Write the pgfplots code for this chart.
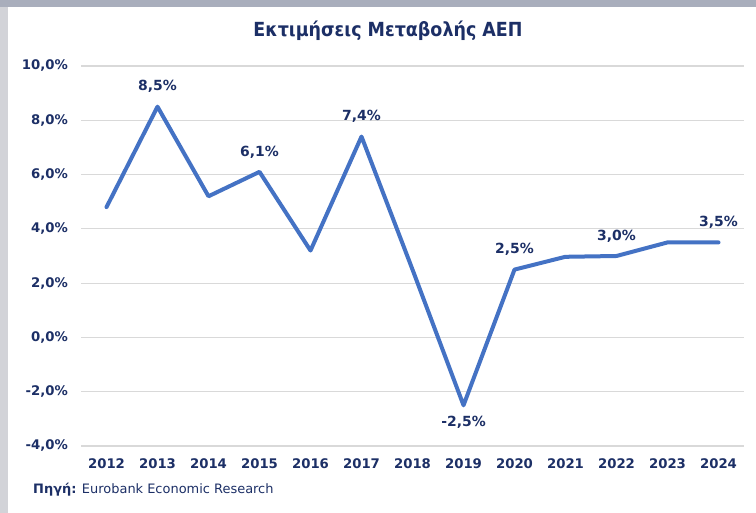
\documentclass[border=0pt]{standalone}
\usepackage{pgfplots}
\pgfplotsset{compat=1.18}
\usepackage{fontspec}
\setmainfont{DejaVu Sans}
\newfontfamily\condfont{DejaVu Sans Condensed}
\definecolor{navy}{HTML}{1C2F66}
\definecolor{lineblue}{HTML}{4472C4}
\definecolor{gridgray}{HTML}{D9D9D9}
\definecolor{leftband}{HTML}{D2D3D8}
\definecolor{topband}{HTML}{A9AEBC}

\begin{document}
\begin{tikzpicture}[x=1bp,y=1bp]
\useasboundingbox (0,0) rectangle (756,513);
\fill[white] (0,0) rectangle (756,513);
\fill[leftband] (0,0) rectangle (8,513);
\fill[topband] (0,506) rectangle (756,513);
\node[text=navy, font=\condfont\bfseries\fontsize{19.5}{22}\selectfont] at (388,482) {Εκτιμήσεις Μεταβολής ΑΕΠ};
\node[anchor=west, inner sep=0, text=navy, font=\fontsize{13}{15}\selectfont] at (33,23)
  {\textbf{Πηγή:} Eurobank Economic Research};
\begin{axis}[at={(81bp,67bp)}, anchor=south west, scale only axis,
  width=663bp, height=380bp,
  xmin=-0.5, xmax=12.5, ymin=-4, ymax=10,
  axis line style={draw=none}, tick style={draw=none},
  ytick={-4,-2,0,2,4,6,8,10},
  yticklabels={{-4,0\%},{-2,0\%},{0,0\%},{2,0\%},{4,0\%},{6,0\%},{8,0\%},{10,0\%}},
  xtick={0,...,12},
  xticklabels={2012,2013,2014,2015,2016,2017,2018,2019,2020,2021,2022,2023,2024},
  ymajorgrids, grid style={gridgray, line width=1.2bp},
  tick label style={font=\bfseries\fontsize{13.3}{15}\selectfont, text=navy},
  yticklabel style={anchor=east, inner sep=0, xshift=-13bp},
  xticklabel style={anchor=north, inner sep=0, yshift=-12bp},
  clip=false]
\addplot[lineblue, line width=4bp, line join=round, line cap=round] coordinates {
  (0,4.8) (1,8.5) (2,5.2) (3,6.1) (4,3.2) (5,7.4) (6,2.5)
  (7,-2.5) (8,2.5) (9,2.97) (10,3.0) (11,3.5) (12,3.5)
};
\addplot[draw=none, mark=none, point meta=explicit symbolic,
  nodes near coords, every node near coord/.append style={anchor=center, yshift=20bp,
    text=navy, font=\bfseries\fontsize{14}{16}\selectfont}] coordinates {
  (1,8.5) [8,5\%]
  (3,6.1) [6,1\%]
  (5,7.4) [7,4\%]
  (8,2.5) [2,5\%]
  (10,3.0) [3,0\%]
  (12,3.5) [3,5\%]
};
\addplot[draw=none, mark=none, point meta=explicit symbolic,
  nodes near coords, every node near coord/.append style={anchor=center, yshift=-17bp,
    text=navy, font=\bfseries\fontsize{14}{16}\selectfont}] coordinates {
  (7,-2.5) [-2,5\%]
};
\end{axis}
\end{tikzpicture}
\end{document}
